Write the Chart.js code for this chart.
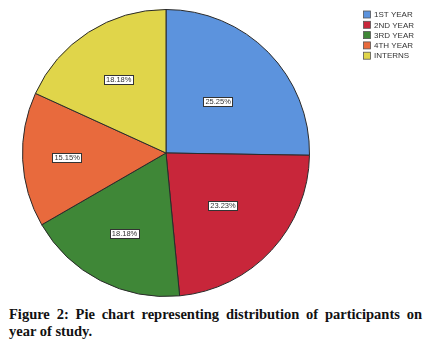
<!DOCTYPE html>
<html><head><meta charset="utf-8">
<script src="https://cdn.jsdelivr.net/npm/chart.js@4"></script>
<style>
html,body{margin:0;padding:0;background:#fff;width:447px;height:350px;overflow:hidden;}
#wrap{position:absolute;left:0;top:0;width:447px;height:305px;}
#cap{position:absolute;left:9px;top:306px;width:413px;font-family:"Liberation Serif",serif;font-weight:bold;font-size:14.5px;line-height:17px;color:#111;text-align:justify;}
</style></head><body>
<div id="wrap"><canvas id="c" width="447" height="305"></canvas></div>
<div id="cap">Figure 2: Pie chart representing distribution of participants on year of study.</div>
<script>
const categories = ["1ST YEAR","2ND YEAR","3RD YEAR","4TH YEAR","INTERNS"];
const values = [25.25, 23.23, 18.18, 15.15, 18.18];
const valueLabels = ["25.25%","23.23%","18.18%","15.15%","18.18%"];
const colors = ["#5C93DD","#C8263A","#3F8737","#E86A3D","#E0D54A"];
const labelRadius = [0.51, 0.54, 0.63, 0.69, 0.61];

const overlay = {
  id:'overlay',
  afterDraw(chart){
    const ctx = chart.ctx;
    const meta = chart.getDatasetMeta(0);
    ctx.save();
    ctx.font = '7.5px "Liberation Sans", Arial, sans-serif';
    ctx.textAlign='center'; ctx.textBaseline='middle';
    meta.data.forEach((arc,i)=>{
      const p = arc.getProps(['x','y','startAngle','endAngle','outerRadius'],true);
      const a = (p.startAngle+p.endAngle)/2;
      const r = p.outerRadius*labelRadius[i];
      const x = p.x + Math.cos(a)*r, y = p.y + Math.sin(a)*r;
      const w = ctx.measureText(valueLabels[i]).width + 4, h = 9;
      ctx.fillStyle='#fff';
      ctx.fillRect(Math.round(x-w/2)+0.5, Math.round(y-h/2)+0.5, Math.round(w), h);
      ctx.strokeStyle='#333'; ctx.lineWidth=1;
      ctx.strokeRect(Math.round(x-w/2)+0.5, Math.round(y-h/2)+0.5, Math.round(w), h);
      ctx.fillStyle='#333';
      ctx.fillText(valueLabels[i], x, y+0.5);
    });
    // legend
    ctx.textAlign='left';
    ctx.font = '8px "Liberation Sans", Arial, sans-serif';
    categories.forEach((c,i)=>{
      const y0 = 11 + i*10.3;
      ctx.fillStyle = colors[i];
      ctx.fillRect(363.5, y0, 7, 7);
      ctx.strokeStyle='#555'; ctx.lineWidth=0.8;
      ctx.strokeRect(363.5, y0, 7, 7);
      ctx.fillStyle='#333';
      ctx.fillText(c, 374, y0+4);
    });
    ctx.restore();
  }
};

new Chart(document.getElementById('c'), {
  type:'pie',
  data:{labels:categories, datasets:[{data:values, backgroundColor:colors, borderColor:'#2a2a2a', borderWidth:1}]},
  options:{
    responsive:false, animation:false,
    layout:{padding:{left:22,right:137,top:9,bottom:8}},
    plugins:{legend:{display:false}, tooltip:{enabled:false}}
  },
  plugins:[overlay]
});
</script>
</body></html>
